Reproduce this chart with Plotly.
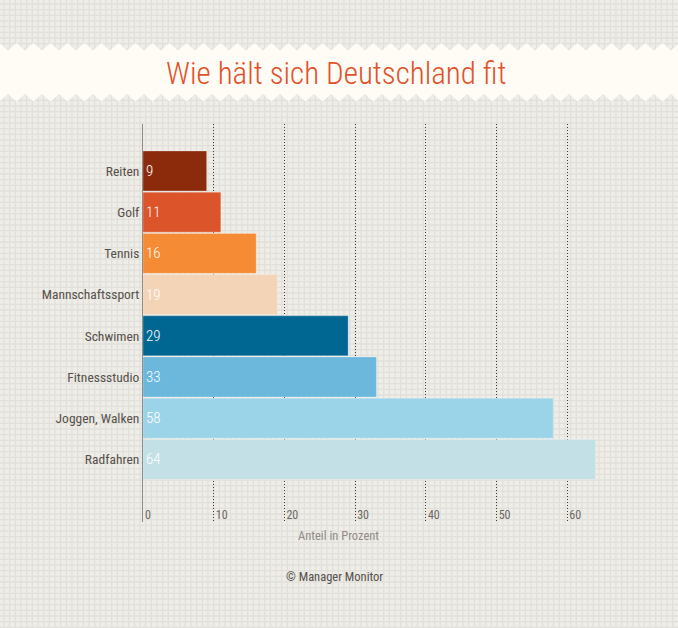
import numpy as np
import plotly.graph_objects as go

categories = ["Reiten", "Golf", "Tennis", "Mannschaftssport", "Schwimen",
              "Fitnessstudio", "Joggen, Walken", "Radfahren"]
values = [9, 11, 16, 19, 29, 33, 58, 64]
colors = ["#8c2b0b", "#dc5429", "#f58b35", "#f3d4b6", "#006793",
          "#6cb7dc", "#9bd4e8", "#c2e0e6"]
x_ticks = [0, 10, 20, 30, 40, 50, 60]

W, H = 678, 628
NARROW = "Roboto Condensed"
px = lambda v: v / W
py = lambda v: 1 - v / H

# decorative background lattice
step = 17 / 3
xs = np.arange(4.0, W, step)
ys = np.arange(4.0, H, step)
grid_path = "".join(f"M{px(x):.5f},0L{px(x):.5f},1" for x in xs) + \
            "".join(f"M0,{py(y):.5f}L1,{py(y):.5f}" for y in ys)

# zigzag banner
tooth = 17
top_pts, bot_pts = [], []
for i in range(0, 42):
    x0 = i * tooth - 9
    top_pts += [(x0, 50.5), (x0 + tooth / 2, 43)]
    bot_pts += [(x0, 94), (x0 + tooth / 2, 101.5)]
pts = top_pts + bot_pts[::-1]
banner = "M" + "L".join(f"{px(a):.5f},{py(b):.5f}" for a, b in pts) + "Z"

fig = go.Figure(go.Bar(
    y=categories, x=values, orientation="h",
    marker=dict(color=colors, line=dict(color="rgba(255,255,255,0.25)", width=1)),
    text=[str(v) for v in values], textposition="inside", insidetextanchor="start",
    textangle=0, constraintext="none",
    textfont=dict(family=NARROW, size=15, color="#ffffff", weight=300),
    cliponaxis=False, hoverinfo="skip",
))

fig.update_layout(
    width=W, height=H, margin=dict(l=0, r=0, t=0, b=0),
    paper_bgcolor="#efede8", plot_bgcolor="rgba(0,0,0,0)",
    bargap=0.03, showlegend=False,
    xaxis=dict(domain=[px(143), px(596)], range=[0, 64.05],
               tickvals=x_ticks, ticks="", showline=False, zeroline=False,
               showgrid=True, gridcolor="#3a3a3a", griddash="1px,2px", gridwidth=1,
               ticklabelposition="inside right", ticklabelstandoff=-5, ticklabelshift=2,
               tickfont=dict(family=NARROW, size=12, color="#6b6762")),
    yaxis=dict(domain=[py(522), py(124)], range=[8.52, -1.14], type="category",
               categoryorder="array", categoryarray=categories,
               showgrid=False, zeroline=False, showline=True,
               linecolor="#8f8c88", linewidth=1, ticks="", ticklen=0,
               tickfont=dict(family=NARROW, size=13.5, color="#55504b")),
    shapes=[
        dict(type="path", path=grid_path, xref="paper", yref="paper", layer="below",
             line=dict(color="#e2e0da", width=1.3)),
        dict(type="path", path=banner, xref="paper", yref="paper", layer="below",
             fillcolor="#fffcf5", line=dict(width=0)),
    ],
    annotations=[
        dict(text="Wie hält sich Deutschland fit", xref="paper", yref="paper",
             x=px(336), y=py(73), showarrow=False, xanchor="center", yanchor="middle",
             font=dict(family=NARROW, size=31, color="#e0512a", weight=300)),
        dict(text="Anteil in Prozent", xref="paper", yref="paper",
             x=px(338), y=py(535.5), showarrow=False, xanchor="center", yanchor="middle",
             font=dict(family=NARROW, size=12.5, color="#8f8b86")),
        dict(text="© Manager Monitor", xref="paper", yref="paper",
             x=px(334), y=py(576.5), showarrow=False, xanchor="center", yanchor="middle",
             font=dict(family=NARROW, size=12.5, color="#55504b")),
    ],
)

fig.write_html("out.html", config=dict(displayModeBar=False),
               post_script="document.body.style.margin='0';")
